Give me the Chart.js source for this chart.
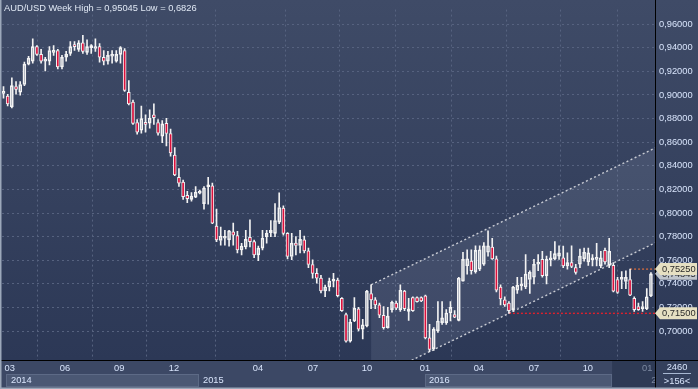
<!DOCTYPE html>
<html>
<head>
<meta charset="utf-8">
<script src="https://cdn.jsdelivr.net/npm/chart.js@4.4.0/dist/chart.umd.min.js"></script>
<style>
  html, body { margin: 0; padding: 0; background: #2f3b57; }
  #wrap { width: 698px; height: 389px; }
</style>
</head>
<body>
<div id="wrap"><canvas id="c" width="698" height="389"></canvas></div>
<script>
// weekly AUD/USD candles
const opens = [
  0.9014, 0.8990, 0.8899, 0.9072, 0.9023, 0.9089, 0.9262, 0.9287, 0.9410, 0.9344,
  0.9287, 0.9287, 0.9361, 0.9377, 0.9237, 0.9320, 0.9353, 0.9427, 0.9386, 0.9443,
  0.9361, 0.9402, 0.9394, 0.9410, 0.9320, 0.9287, 0.9328, 0.9287, 0.9344, 0.9377,
  0.9023, 0.8940, 0.8767, 0.8701, 0.8759, 0.8762, 0.8831, 0.8767, 0.8652, 0.8761,
  0.8674, 0.8492, 0.8303, 0.8262, 0.8149, 0.8116, 0.8135, 0.8168, 0.8080, 0.8223,
  0.8231, 0.7890, 0.7767, 0.7786, 0.7772, 0.7841, 0.7808, 0.7687, 0.7712, 0.7794,
  0.7758, 0.7646, 0.7703, 0.7800, 0.7833, 0.7827, 0.7923, 0.8041, 0.7827, 0.7632,
  0.7745, 0.7725, 0.7772, 0.7679, 0.7564, 0.7489, 0.7448, 0.7340, 0.7373, 0.7423,
  0.7431, 0.7277, 0.7140, 0.6914, 0.7085, 0.7189, 0.7016, 0.7043, 0.7318, 0.7264,
  0.7222, 0.7134, 0.7029, 0.7181, 0.7236, 0.7181, 0.7338, 0.7167, 0.7283, 0.7283,
  0.7283, 0.7299, 0.6942, 0.6851, 0.7002, 0.7071, 0.7071, 0.7153, 0.7140, 0.7090,
  0.7423, 0.7553, 0.7593, 0.7503, 0.7524, 0.7566, 0.7668, 0.7711, 0.7612, 0.7373,
  0.7264, 0.7236, 0.7181, 0.7346, 0.7382, 0.7373, 0.7437, 0.7456, 0.7566, 0.7607,
  0.7470, 0.7602, 0.7612, 0.7635, 0.7621, 0.7552, 0.7580, 0.7538, 0.7566, 0.7612,
  0.7585, 0.7602, 0.7607, 0.7552, 0.7684, 0.7557, 0.7557, 0.7437, 0.7437, 0.7420,
  0.7437, 0.7277, 0.7208, 0.7189, 0.7189, 0.7299
];
const highs = [
  0.9072, 0.9006, 0.9146, 0.9113, 0.9113, 0.9278, 0.9328, 0.9476, 0.9419, 0.9386,
  0.9320, 0.9410, 0.9419, 0.9386, 0.9336, 0.9369, 0.9452, 0.9452, 0.9460, 0.95045,
  0.9468, 0.9427, 0.9476, 0.9435, 0.9377, 0.9369, 0.9377, 0.9377, 0.9410, 0.9394,
  0.9122, 0.8957, 0.8792, 0.8907, 0.8833, 0.8874, 0.8926, 0.8792, 0.8784, 0.8803,
  0.8712, 0.8555, 0.8377, 0.8280, 0.8184, 0.8173, 0.8225, 0.8194, 0.8225, 0.8303,
  0.8253, 0.8033, 0.7882, 0.7854, 0.7854, 0.7915, 0.7845, 0.7744, 0.7854, 0.7942,
  0.7770, 0.7720, 0.7854, 0.7854, 0.7937, 0.8080, 0.8171, 0.8060, 0.7835, 0.7827,
  0.7800, 0.7854, 0.7805, 0.7703, 0.7604, 0.7530, 0.7472, 0.7390, 0.7448, 0.7489,
  0.7448, 0.7283, 0.7153, 0.7099, 0.7283, 0.7200, 0.7099, 0.7346, 0.7392, 0.7283,
  0.7236, 0.7208, 0.7200, 0.7255, 0.7255, 0.7392, 0.7346, 0.7277, 0.7291, 0.7291,
  0.7291, 0.7305, 0.7057, 0.7029, 0.7250, 0.7250, 0.7181, 0.7250, 0.7173, 0.7456,
  0.7668, 0.7689, 0.7689, 0.7722, 0.7722, 0.7750, 0.7849, 0.7786, 0.7635, 0.7392,
  0.7291, 0.7250, 0.7380, 0.7456, 0.7456, 0.7648, 0.7511, 0.7607, 0.7648, 0.7676,
  0.7635, 0.7676, 0.7758, 0.7722, 0.7720, 0.7662, 0.7722, 0.7566, 0.7695, 0.7703,
  0.7703, 0.7648, 0.7744, 0.7676, 0.7703, 0.7786, 0.7580, 0.7456, 0.7503, 0.7511,
  0.7525, 0.7291, 0.7236, 0.7250, 0.7359, 0.7495
];
const lows = [
  0.8973, 0.8907, 0.8891, 0.9006, 0.8998, 0.9080, 0.9254, 0.9270, 0.9336, 0.9270,
  0.9204, 0.9254, 0.9336, 0.9221, 0.9221, 0.9287, 0.9336, 0.9377, 0.9369, 0.9353,
  0.9344, 0.9353, 0.9369, 0.9278, 0.9254, 0.9262, 0.9270, 0.9278, 0.9270, 0.9031,
  0.8916, 0.8751, 0.8668, 0.8676, 0.8685, 0.8718, 0.8751, 0.8660, 0.8596, 0.8569,
  0.8481, 0.8316, 0.8225, 0.8116, 0.8088, 0.8101, 0.8130, 0.8161, 0.8033, 0.8074,
  0.7909, 0.7758, 0.7728, 0.7728, 0.7720, 0.7728, 0.7662, 0.7646, 0.7695, 0.7712,
  0.7621, 0.7596, 0.7687, 0.7745, 0.7800, 0.7800, 0.7909, 0.7813, 0.7612, 0.7604,
  0.7646, 0.7662, 0.7662, 0.7538, 0.7448, 0.7406, 0.7324, 0.7291, 0.7340, 0.7373,
  0.7290, 0.7167, 0.6906, 0.6906, 0.7079, 0.7002, 0.6934, 0.7035, 0.7189, 0.7189,
  0.7114, 0.7016, 0.7024, 0.7161, 0.7181, 0.7167, 0.7173, 0.7090, 0.7167, 0.7244,
  0.7250, 0.6934, 0.6826, 0.6837, 0.6988, 0.7057, 0.7057, 0.7085, 0.7114, 0.7085,
  0.7423, 0.7483, 0.7483, 0.7491, 0.7511, 0.7557, 0.7635, 0.7607, 0.7332, 0.7222,
  0.7208, 0.7150, 0.7167, 0.7318, 0.7346, 0.7359, 0.7318, 0.7400, 0.7511, 0.7456,
  0.7400, 0.7552, 0.7602, 0.7607, 0.7538, 0.7524, 0.7538, 0.7483, 0.7538, 0.7593,
  0.7557, 0.7552, 0.7552, 0.7538, 0.7566, 0.7538, 0.7332, 0.7318, 0.7359, 0.7359,
  0.7299, 0.7167, 0.7175, 0.7167, 0.7181, 0.7291
];
const closes = [
  0.9031, 0.8924, 0.9080, 0.9047, 0.9089, 0.9262, 0.9311, 0.9410, 0.9344, 0.9287,
  0.9303, 0.9377, 0.9377, 0.9237, 0.9320, 0.9344, 0.9410, 0.9410, 0.9443, 0.9369,
  0.9410, 0.9410, 0.9410, 0.9320, 0.9287, 0.9336, 0.9344, 0.9344, 0.9402, 0.9039,
  0.8924, 0.8759, 0.8685, 0.8800, 0.8751, 0.8803, 0.8808, 0.8676, 0.8756, 0.8674,
  0.8509, 0.8322, 0.8253, 0.8138, 0.8121, 0.8143, 0.8176, 0.8184, 0.8212, 0.8231,
  0.7915, 0.7772, 0.7805, 0.7802, 0.7849, 0.7813, 0.7687, 0.7720, 0.7777, 0.7758,
  0.7646, 0.7703, 0.7786, 0.7827, 0.7854, 0.7937, 0.8047, 0.7827, 0.7632, 0.7745,
  0.7725, 0.7777, 0.7679, 0.7564, 0.7489, 0.7448, 0.7340, 0.7373, 0.7423, 0.7431,
  0.7300, 0.7173, 0.6914, 0.7076, 0.7194, 0.7016, 0.7052, 0.7338, 0.7264, 0.7222,
  0.7134, 0.7029, 0.7126, 0.7244, 0.7194, 0.7346, 0.7189, 0.7189, 0.7173, 0.7250,
  0.7255, 0.6942, 0.6845, 0.7016, 0.7085, 0.7112, 0.7153, 0.7200, 0.7118, 0.7448,
  0.7607, 0.7613, 0.7511, 0.7684, 0.7689, 0.7722, 0.7722, 0.7612, 0.7346, 0.7272,
  0.7222, 0.7173, 0.7373, 0.7387, 0.7400, 0.7483, 0.7497, 0.7566, 0.7580, 0.7470,
  0.7607, 0.7621, 0.7656, 0.7662, 0.7552, 0.7580, 0.7547, 0.7497, 0.7635, 0.7668,
  0.7662, 0.7621, 0.7621, 0.7621, 0.7585, 0.7676, 0.7338, 0.7327, 0.7456, 0.7456,
  0.7305, 0.7181, 0.7181, 0.7208, 0.7291, 0.74845
];

const yTicks = [0.70, 0.72, 0.74, 0.76, 0.78, 0.80, 0.82, 0.84, 0.86, 0.88, 0.90, 0.92, 0.94, 0.96];
// month ticks, in week index units
const tickWeeks = [1.5, 14.7, 27.7, 40.8, 60.9, 74.1, 87.0, 100.9, 113.8, 127.0, 139.9, 154.1];
const tickLabels = ['03', '06', '09', '12', '04', '07', '10', '01', '04', '07', '10', '01'];
const yearNames = ['2014', '2015', '2016', '2017'];
const yearStarts = [0.6, 46.8, 100.9, 154.1];
const yearEnds = [46.8, 100.9, 145.7, 156];

// trend channel and level lines
const channelUpper = [[88, 0.7392], [156, 0.8551]];
const channelLower = [[88, 0.6587], [156, 0.7747]];
const lowLevel = 0.7150, lowFrom = 121;
const highLevel = 0.7525, highFrom = 150;
const lastQuote = 0.74845;
const barsTotal = '2460', barsShown = '>156<';
const title = 'AUD/USD Week High = 0,95045 Low = 0,6826';

const FONT = '"Liberation Sans", Arial, sans-serif';
const TXT = '#d8e4fb';
const fmt = v => v.toFixed(5).replace('.', ',');

const idx = opens.map((_, i) => i);
const upperWick = idx.map(i => ({ x: i, y: [Math.max(opens[i], closes[i]), highs[i]] }));
const lowerWick = idx.map(i => ({ x: i, y: [lows[i], Math.min(opens[i], closes[i])] }));
const bodies = idx.map(i => ({ x: i, y: [opens[i], closes[i]] }));
const bodyFill = idx.map(i => closes[i] < opens[i] ? '#dc103c' : 'rgba(0,0,0,0)');

function priceTag(ctx, y, text, fill) {
  ctx.fillStyle = fill;
  ctx.beginPath();
  ctx.moveTo(655, y);
  ctx.lineTo(660, y - 6);
  ctx.lineTo(697, y - 6);
  ctx.lineTo(697, y + 6);
  ctx.lineTo(660, y + 6);
  ctx.closePath();
  ctx.fill();
  ctx.fillStyle = '#2a2a2a';
  ctx.textAlign = 'left';
  ctx.textBaseline = 'middle';
  ctx.fillText(text, 662, y + 0.5);
}

const frame = {
  id: 'frame',
  beforeDraw(chart) {
    const { ctx, chartArea: a, width, height } = chart;
    const xs = chart.scales.x;
    ctx.save();
    const g = ctx.createLinearGradient(0, 0, 0, a.bottom);
    g.addColorStop(0, '#3f4b67');
    g.addColorStop(1, '#2c3856');
    ctx.fillStyle = g;
    ctx.fillRect(0, 0, width, a.bottom);
    ctx.fillStyle = '#3c4865';
    ctx.fillRect(0, a.bottom, width, height - a.bottom);
    // shaded year boxes
    ctx.fillStyle = '#4b5874';
    ctx.strokeStyle = '#5d6a86';
    [0, 2].forEach(k => {
      const x1 = xs.getPixelForValue(yearStarts[k]), x2 = xs.getPixelForValue(yearEnds[k]);
      ctx.fillRect(x1, 374, x2 - x1, 13);
      ctx.strokeRect(x1 + 0.5, 374.5, x2 - x1 - 1, 12);
    });
    const d1 = xs.getPixelForValue(yearEnds[2]);
    ctx.fillStyle = '#2e3a55';
    ctx.fillRect(d1, a.bottom + 1, a.right - d1, height - a.bottom - 3);
    ctx.fillStyle = '#34405c';
    ctx.fillRect(a.right, a.bottom, width - a.right, height - a.bottom);
    ctx.restore();
  },
  afterDraw(chart) {
    const { ctx, chartArea: a, width, height } = chart;
    const xs = chart.scales.x, ys = chart.scales.y;
    ctx.save();
    // separators
    ctx.strokeStyle = '#000000';
    ctx.lineWidth = 1;
    ctx.beginPath();
    ctx.moveTo(0, a.bottom + 0.5); ctx.lineTo(width, a.bottom + 0.5);
    ctx.moveTo(a.right + 0.5, 0); ctx.lineTo(a.right + 0.5, height);
    ctx.stroke();
    // outer light border
    ctx.fillStyle = '#9ca8ba';
    ctx.fillRect(0, 0, 1.5, height);
    ctx.fillRect(0, height - 1.5, width, 1.5);
    // title
    ctx.font = '9.3px ' + FONT;
    ctx.fillStyle = '#e0e8f4';
    ctx.textAlign = 'left';
    ctx.textBaseline = 'middle';
    ctx.fillText(title, 4, 8);
    // year labels
    ctx.font = '9.3px ' + FONT;
    ctx.save();
    ctx.beginPath();
    ctx.rect(0, a.bottom, a.right, height - a.bottom);
    ctx.clip();
    yearNames.forEach((t, k) => {
      ctx.fillStyle = k === 3 ? '#7d8aa2' : TXT;
      ctx.fillText(t, xs.getPixelForValue(yearStarts[k]) + (k === 0 ? 5 : 4), 380.5);
    });
    ctx.restore();
    // bars counter box
    ctx.fillStyle = TXT;
    ctx.textAlign = 'center';
    ctx.fillText(barsTotal, 677, 367.5);
    ctx.fillText(barsShown, 677, 381);
    ctx.strokeStyle = '#a8b8d2';
    ctx.beginPath();
    ctx.moveTo(663, 373.5); ctx.lineTo(691, 373.5);
    ctx.stroke();
    // price tags
    ctx.font = '9.3px ' + FONT;
    priceTag(ctx, ys.getPixelForValue(lastQuote), fmt(lastQuote), '#bfc5cc');
    priceTag(ctx, ys.getPixelForValue(highLevel), fmt(highLevel), '#e6e0c2');
    priceTag(ctx, ys.getPixelForValue(lowLevel), fmt(lowLevel), '#e6e0c2');
    ctx.restore();
  }
};

new Chart(document.getElementById('c'), {
  type: 'bar',
  data: {
    datasets: [
      {
        type: 'line', order: 10,
        data: channelUpper.map(p => ({ x: p[0], y: p[1] })),
        borderColor: '#c9ccd4', borderWidth: 1.4, borderDash: [2, 2.5],
        backgroundColor: 'rgba(190,200,220,0.12)', fill: '+1', pointRadius: 0
      },
      {
        type: 'line', order: 9,
        data: channelLower.map(p => ({ x: p[0], y: p[1] })),
        borderColor: '#c9ccd4', borderWidth: 1.4, borderDash: [2, 2.5],
        fill: false, pointRadius: 0
      },
      {
        type: 'line', order: 8,
        data: [{ x: lowFrom, y: lowLevel }, { x: 157, y: lowLevel }],
        borderColor: '#e0202c', borderWidth: 1.4, borderDash: [2, 2], fill: false, pointRadius: 0
      },
      {
        type: 'line', order: 8,
        data: [{ x: highFrom, y: highLevel }, { x: 157, y: highLevel }],
        borderColor: '#e4703c', borderWidth: 1.2, borderDash: [2, 2], fill: false, pointRadius: 0
      },
      {
        order: 3, data: upperWick, grouped: false, barThickness: 1,
        backgroundColor: '#f2f2f2', borderWidth: 0
      },
      {
        order: 3, data: lowerWick, grouped: false, barThickness: 1,
        backgroundColor: '#f2f2f2', borderWidth: 0
      },
      {
        order: 1, data: bodies, grouped: false, barThickness: 3,
        backgroundColor: bodyFill, borderColor: '#f4f4f4', borderWidth: 1,
        borderSkipped: false, minBarLength: 2
      }
    ]
  },
  options: {
    responsive: false,
    animation: false,
    devicePixelRatio: 1,
    layout: { padding: { left: 2, top: 0, right: 0, bottom: 0 } },
    plugins: { legend: { display: false }, tooltip: { enabled: false } },
    scales: {
      x: {
        type: 'linear',
        min: -0.36, max: 155.97,
        offset: false,
        afterFit: s => { s.height = 29; },
        afterBuildTicks: s => { s.ticks = tickWeeks.map(v => ({ value: v })); },
        grid: { color: '#56627f', lineWidth: 1, drawTicks: false },
        border: { display: false, dash: [2, 3] },
        ticks: {
          autoSkip: false, maxRotation: 0, padding: 3,
          font: { family: FONT, size: 9.3 },
          color: c => c.index === tickWeeks.length - 1 ? '#7d8aa2' : TXT,
          callback: (v, i) => tickLabels[i]
        }
      },
      y: {
        position: 'right',
        min: 0.67548, max: 0.97237,
        afterFit: s => { s.width = 43; },
        afterBuildTicks: s => { s.ticks = yTicks.map(v => ({ value: v })); },
        grid: { color: '#56627f', lineWidth: 1, drawTicks: false },
        border: { display: false, dash: [2, 3] },
        ticks: {
          padding: 4,
          font: { family: FONT, size: 9.3 },
          color: TXT,
          callback: v => fmt(v)
        }
      }
    }
  },
  plugins: [frame]
});
</script>
</body>
</html>
